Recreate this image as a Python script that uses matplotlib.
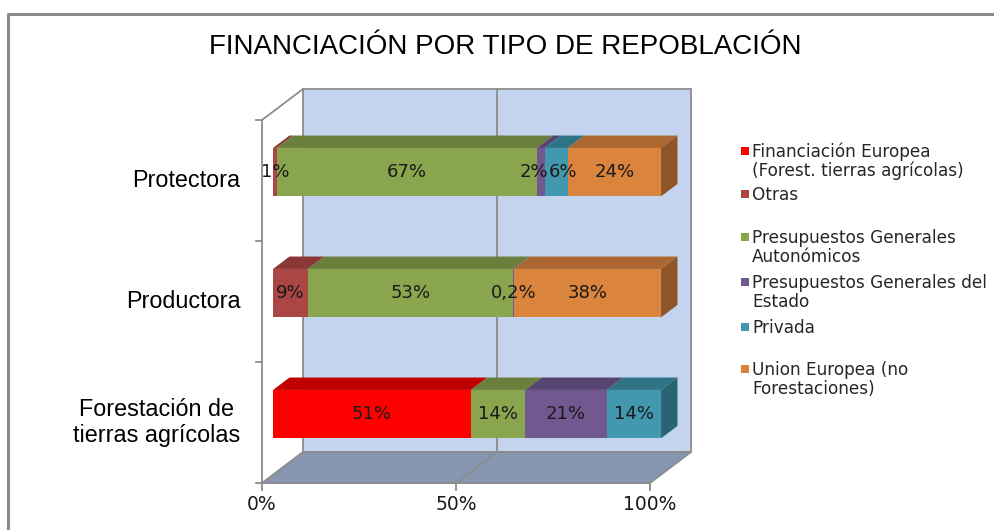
import numpy as np
import matplotlib
matplotlib.use("Agg")
import matplotlib.pyplot as plt
from matplotlib.patches import Polygon, Rectangle
from matplotlib.lines import Line2D

# ---------------- data ----------------
categories = ["Protectora", "Productora", "Forestación de\ntierras agrícolas"]
series = [
    "Financiación Europea\n(Forest. tierras agrícolas)",
    "Otras",
    "Presupuestos Generales\nAutonómicos",
    "Presupuestos Generales del\nEstado",
    "Privada",
    "Union Europea (no\nForestaciones)",
]
fin_europea = [0, 0, 51]
otras = [1, 9, 0]
pg_autonomicos = [67, 53, 14]
pg_estado = [2, 0.2, 21]
privada = [6, 0, 14]
union_europea = [24, 38, 0]
x_ticks = [0, 50, 100]
x_tick_labels = ["0%", "50%", "100%"]
title = "FINANCIACIÓN POR TIPO DE REPOBLACIÓN"

# ---------------- style ----------------
front_colors = ["#FF0000", "#AA4643", "#89A54E", "#71588F", "#4198AF", "#DB843D"]
top_colors = ["#C00000", "#8A3836", "#6A7F3C", "#574470", "#2F7486", "#AC6730"]
side_colors = ["#A00000", "#742F2D", "#55662F", "#46375A", "#286472", "#8E5529"]
wall_color = "#C4D3EE"
floor_color = "#8696B1"
line_color = "#8C8C8C"
text_color = "#1A1A1A"

W, H = 995, 530
fig = plt.figure(figsize=(W / 100, H / 100), dpi=100)
ax = fig.add_axes([0, 0, 1, 1])
ax.axis("off")

# pixel geometry of the plot frame (front plane)
X0_PX, PX_PER_PCT = 262, 3.88
Y0_PX, PX_PER_CAT = 483, 121
ax.set_xlim(-X0_PX / PX_PER_PCT, (W - X0_PX) / PX_PER_PCT)
ax.set_ylim(-(H - Y0_PX) / PX_PER_CAT, Y0_PX / PX_PER_CAT)

DX = 41 / PX_PER_PCT    # depth offset in data units
DY = 31 / PX_PER_CAT
D_FRONT, D_BACK = 0.27, 0.67
BAR_H = 0.4
n_cat = len(categories)


def proj(x, y, d):
    return (x + d * DX, y + d * DY)


# back wall
wall = Polygon([proj(0, 0, 1), proj(100, 0, 1), proj(100, n_cat, 1), proj(0, n_cat, 1)],
               closed=True, facecolor=wall_color, edgecolor=line_color, lw=1.3, zorder=1)
ax.add_patch(wall)
# floor
floor = Polygon([proj(0, 0, 0), proj(100, 0, 0), proj(100, 0, 1), proj(0, 0, 1)],
                closed=True, facecolor=floor_color, edgecolor=line_color, lw=1.3, zorder=1)
ax.add_patch(floor)
# gridline at 50%
for xt in x_ticks[1:-1]:
    p = [proj(xt, 0, 1), proj(xt, n_cat, 1)]
    ax.plot([p[0][0], p[1][0]], [p[0][1], p[1][1]], color=line_color, lw=1.3, zorder=2)
    p = [proj(xt, 0, 0), proj(xt, 0, 1)]
    ax.plot([p[0][0], p[1][0]], [p[0][1], p[1][1]], color=line_color, lw=1.3, zorder=2)
# left wall edges / axis
p = [proj(0, 0, 0), proj(0, n_cat, 0), proj(0, n_cat, 1)]
ax.plot([q[0] for q in p], [q[1] for q in p], color=line_color, lw=1.3, zorder=2)
# x axis line and ticks
ax.plot([0, 100], [0, 0], color=line_color, lw=1.3, zorder=2)
for xt, lab in zip(x_ticks, x_tick_labels):
    ax.plot([xt, xt], [0, -7 / PX_PER_CAT], color=line_color, lw=1.3, zorder=2)
    ax.text(xt, -22 / PX_PER_CAT, lab, ha="center", va="center", fontsize=13.5,
            family="DejaVu Sans", color=text_color)
# y ticks
for k in range(n_cat + 1):
    ax.plot([0, -6 / PX_PER_PCT], [k, k], color=line_color, lw=1.3, zorder=2)

# category labels
for i, cat in enumerate(categories):
    yc = n_cat - 0.5 - i
    ax.annotate(cat, (0, yc), xytext=(-15.5, 0), textcoords="offset points",
                ha="right", va="center", multialignment="center",
                fontsize=16.8, family="Liberation Sans", color="#000000",
                linespacing=1.15)

# bars
data = np.array([fin_europea, otras, pg_autonomicos, pg_estado, privada, union_europea],
                dtype=float)  # series x categories
row_texts = []
for i in range(n_cat):
    yc = n_cat - 0.5 - i
    col = data[:, i]
    pct = col / col.sum() * 100
    left = 0.0
    nz = [j for j in range(len(series)) if col[j] > 0]
    last = nz[-1]
    texts = []
    for j in range(len(series)):
        w = pct[j]
        if col[j] <= 0:
            continue
        fx, fy = proj(left, yc, D_FRONT)
        ax.barh(fy, w, left=fx, height=BAR_H, color=front_colors[j], lw=0, zorder=5)
        yt = yc + BAR_H / 2
        top = Polygon([proj(left, yt, D_FRONT), proj(left + w, yt, D_FRONT),
                       proj(left + w, yt, D_BACK), proj(left, yt, D_BACK)],
                      closed=True, facecolor=top_colors[j], lw=0, zorder=4)
        ax.add_patch(top)
        if j == last:
            yb = yc - BAR_H / 2
            r = left + w
            side = Polygon([proj(r, yb, D_FRONT), proj(r, yt, D_FRONT),
                            proj(r, yt, D_BACK), proj(r, yb, D_BACK)],
                           closed=True, facecolor=side_colors[j], lw=0, zorder=4)
            ax.add_patch(side)
        lab = f"{col[j]:g}%".replace(".", ",")
        t = ax.text(fx + w / 2, fy, lab, ha="center", va="center", fontsize=13,
                    family="DejaVu Sans", color=text_color, zorder=6)
        texts.append(t)
        left += w
    row_texts.append(texts)

# push apart overlapping data labels (as the reference does)
fig.canvas.draw()
renderer = fig.canvas.get_renderer()
for texts in row_texts:
    for a, b in zip(texts[:-1], texts[1:]):
        ea = a.get_window_extent(renderer)
        eb = b.get_window_extent(renderer)
        overlap = ea.x1 - eb.x0
        if overlap > 0:
            shift = (overlap / 2 + 0.5) / PX_PER_PCT
            xa, ya = a.get_position()
            xb, yb = b.get_position()
            a.set_position((xa - shift, ya))
            b.set_position((xb + shift, yb))

# title
fig.text(505.5 / W, 1 - 47 / H, title, ha="center", va="center", fontsize=20,
         family="Liberation Sans", color="#000000")

# legend
leg_x_sq, leg_x_txt = 741, 752
leg_y = [151, 194, 237, 282, 327, 369]
line_gap = 19
for j, (name, yy) in enumerate(zip(series, leg_y)):
    fig.patches.append(Rectangle((leg_x_sq / W, 1 - (yy + 4) / H), 8 / W, 8 / H,
                                 transform=fig.transFigure, facecolor=front_colors[j],
                                 edgecolor="none"))
    for k, line in enumerate(name.split("\n")):
        fig.text(leg_x_txt / W, 1 - (yy + k * line_gap + 6) / H, line, ha="left",
                 va="baseline", fontsize=12.2, family="DejaVu Sans", color="#262626")

# chart border
fig.add_artist(Line2D([8 / W, 8 / W, 1.0], [0.0, 1 - 14 / H, 1 - 14 / H],
                      transform=fig.transFigure, color="#8A8A8A", lw=2.2))

fig.savefig("out.png", dpi=100)
